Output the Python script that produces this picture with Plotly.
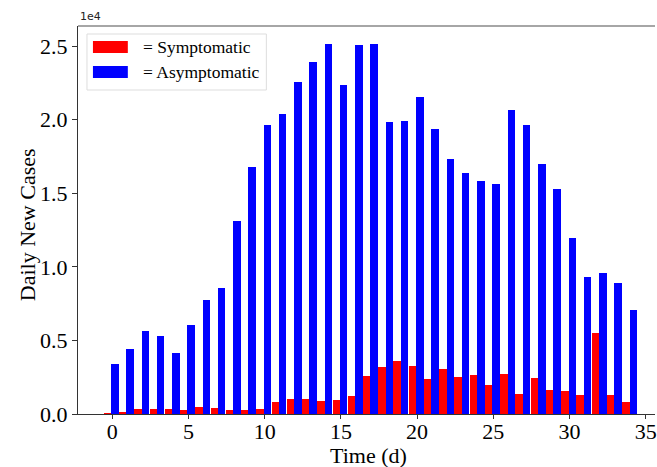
import plotly.graph_objects as go

days = list(range(35))
symptomatic = [60, 120, 360, 350, 350, 300, 470, 430, 300, 300, 360, 810, 1040, 1040, 910,
               980, 1220, 2600, 3210, 3620, 3280, 2400, 3080, 2540, 2650, 1950, 2740, 1380,
               2470, 1650, 1590, 1310, 5500, 1270, 810]
asymptomatic = [3410, 4410, 5650, 5320, 4120, 6060, 7760, 8580, 13080, 16770, 19660, 20390,
                22580, 23900, 25140, 22340, 25070, 25140, 19820, 19890, 21540, 19370, 17310,
                16400, 15840, 15660, 20640, 19640, 16970, 15300, 11950, 9300, 9550, 8920, 7080]
ytick_vals = [0, 5000, 10000, 15000, 20000, 25000]
ytick_text = ["0.0", "0.5", "1.0", "1.5", "2.0", "2.5"]
xtick_vals = [0, 5, 10, 15, 20, 25, 30, 35]

FONT = "Liberation Serif, Times New Roman, serif"

fig = go.Figure()
fig.add_trace(go.Bar(x=days, y=symptomatic, width=0.49, offset=-0.55,
                     marker=dict(color="#ff0000", line=dict(width=0)),
                     name="= Symptomatic", showlegend=False))
fig.add_trace(go.Bar(x=days, y=asymptomatic, width=0.49, offset=-0.06,
                     marker=dict(color="#0000ff", line=dict(width=0)),
                     name="= Asymptomatic", showlegend=False))

fig.update_layout(
    width=657, height=467,
    margin=dict(l=78, r=0, t=26, b=53),
    plot_bgcolor="white", paper_bgcolor="white",
    font=dict(family=FONT, color="black"),
    bargap=0,
    xaxis=dict(range=[-2.24, 35.6], tickvals=xtick_vals, ticks="outside", ticklen=4,
               tickwidth=1, tickcolor="#333", showgrid=False, zeroline=False,
               showline=True, linecolor="#333", linewidth=1, ticklabeloverflow="allow",
               ticklabelstandoff=-6,
               tickfont=dict(size=22, family=FONT)),
    yaxis=dict(range=[0, 26360], tickvals=ytick_vals, ticktext=ytick_text, ticks="outside",
               ticklen=5, tickwidth=1, tickcolor="#333", showgrid=False, zeroline=False,
               showline=True, linecolor="#333", linewidth=1,
               tickfont=dict(size=22, family=FONT)),
)

def px_x(p):
    return (p - 78) / (657 - 78)

def px_y(p):
    return (414 - p) / (414 - 26)

# axis titles
fig.add_annotation(text="Time (d)", xref="paper", yref="paper", x=px_x(370), y=px_y(455),
                   xanchor="center", yanchor="middle", showarrow=False,
                   font=dict(size=22, family=FONT, color="black"))
fig.add_annotation(text="Daily New Cases", xref="paper", yref="paper", x=px_x(28), y=px_y(225),
                   xanchor="center", yanchor="middle", showarrow=False, textangle=-90,
                   font=dict(size=22, family=FONT, color="black"))

# top spine
fig.add_shape(type="line", xref="paper", yref="paper", x0=0, x1=1, y0=1, y1=1,
              line=dict(color="#888", width=1.5))

# offset text
fig.add_annotation(text="1e4", xref="paper", yref="paper", x=0, y=1, xanchor="left",
                   yanchor="bottom", showarrow=False, yshift=1,
                   font=dict(size=11, family="DejaVu Sans", color="#222"))

# legend (manual, matplotlib-like)
fig.add_shape(type="rect", xref="paper", yref="paper",
              x0=px_x(87), x1=px_x(267), y0=px_y(90), y1=px_y(34),
              line=dict(color="#ddd", width=1), fillcolor="rgba(255,255,255,0.85)")
fig.add_shape(type="rect", xref="paper", yref="paper",
              x0=px_x(93), x1=px_x(128), y0=px_y(53), y1=px_y(41),
              line=dict(width=0), fillcolor="#ff0000")
fig.add_shape(type="rect", xref="paper", yref="paper",
              x0=px_x(93), x1=px_x(128), y0=px_y(78), y1=px_y(66),
              line=dict(width=0), fillcolor="#0000ff")
fig.add_annotation(text="= Symptomatic", xref="paper", yref="paper", x=px_x(141), y=px_y(47),
                   xanchor="left", yanchor="middle", showarrow=False,
                   font=dict(size=17.5, family=FONT, color="black"))
fig.add_annotation(text="= Asymptomatic", xref="paper", yref="paper", x=px_x(141), y=px_y(72),
                   xanchor="left", yanchor="middle", showarrow=False,
                   font=dict(size=17.5, family=FONT, color="black"))

fig.write_html("out.html")
